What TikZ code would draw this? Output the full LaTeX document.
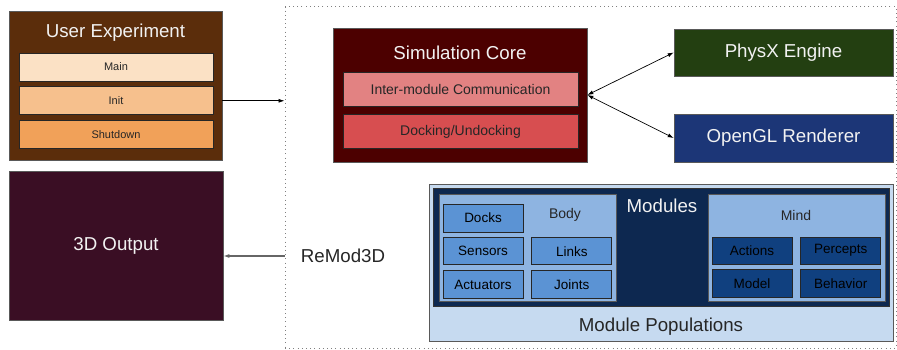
\documentclass[tikz,border=0pt]{standalone}
\usepackage{fontspec}
\setmainfont{Liberation Sans}
\usetikzlibrary{arrows.meta, positioning}

\definecolor{uxbrown}{HTML}{5B2D0B}
\definecolor{uxmain}{HTML}{FBE1C5}
\definecolor{uxinit}{HTML}{F6C08D}
\definecolor{uxshut}{HTML}{F1A159}
\definecolor{simred}{HTML}{4C0000}
\definecolor{simcomm}{HTML}{E28282}
\definecolor{simdock}{HTML}{D74E50}
\definecolor{physgreen}{HTML}{233F11}
\definecolor{glblue}{HTML}{1C3677}
\definecolor{outplum}{HTML}{3A0E24}
\definecolor{poplight}{HTML}{C6DAF0}
\definecolor{modnavy}{HTML}{0D2850}
\definecolor{partblue}{HTML}{8EB4E1}
\definecolor{bodyblue}{HTML}{5B93D4}
\definecolor{mindblue}{HTML}{10407F}
\definecolor{lighttext}{HTML}{F2F2F2}

\tikzset{
  outerbox/.style={draw=black!65, line width=0.6pt, rectangle, inner sep=0pt},
  innerbox/.style={draw=black!85, line width=0.8pt, rectangle, inner sep=0pt,
    font=\fontsize{11}{13}\selectfont, text=black!85},
  partbox/.style={innerbox, minimum width=80pt, text=black, font=\fontsize{13.5}{16}\selectfont},
  bigtext/.style={font=\fontsize{18.7}{22}\selectfont},
  midtext/.style={font=\fontsize{14}{17}\selectfont},
  linkarrow/.style={line width=0.7pt, -{Latex[length=6pt, width=4pt]}},
}

\begin{document}
\begin{tikzpicture}[x=1pt, y=-1pt]
    \useasboundingbox (0,0) rectangle (897,350);

    % user side
    \node (ux) [outerbox, fill=uxbrown, minimum width=213pt, minimum height=149pt] at (115.5,85.5) {};
    \node (uxtitle) [bigtext, text=lighttext] at (115.5,33) {User Experiment};
    \node (main) [innerbox, fill=uxmain, minimum width=194pt, minimum height=28pt] at (116,67) {Main};
    \node (init) [innerbox, fill=uxinit, minimum width=194pt, minimum height=28pt, below=5pt of main] {Init};
    \node (shut) [innerbox, fill=uxshut, minimum width=194pt, minimum height=28pt, below=5pt of init] {Shutdown};

    \node (out) [outerbox, fill=outplum, minimum width=214pt, minimum height=149pt, bigtext, text=lighttext] at (116,245.5) {3D Output};

    % ReMod3D frame
    \node (remod) [draw=black!50, line width=1pt, dash pattern=on 1pt off 3.2pt, rectangle, minimum width=611pt, minimum height=341pt] at (590.5,177.5) {};
    \node (remodlbl) [bigtext, text=black!85] at (343,256) {ReMod3D};

    % simulation core
    \node (simcore) [outerbox, fill=simred, minimum width=254pt, minimum height=134pt] at (460,95) {};
    \node (simtitle) [bigtext, text=lighttext] at (460,53) {Simulation Core};
    \node (comm) [innerbox, fill=simcomm, minimum width=235pt, minimum height=34pt, midtext] at (460.5,89) {Inter-module Communication};
    \node (dock) [innerbox, fill=simdock, minimum width=235pt, minimum height=34pt, midtext, below=8pt of comm] {Docking/Undocking};

    \node (physx) [outerbox, fill=physgreen, minimum width=219pt, minimum height=47pt, bigtext, text=lighttext] at (783.5,52.5) {PhysX Engine};
    \node (opengl) [outerbox, fill=glblue, minimum width=219pt, minimum height=48pt, bigtext, text=lighttext] at (783.5,138) {OpenGL Renderer};

    % module populations
    \node (pop) [outerbox, fill=poplight, minimum width=464pt, minimum height=157pt] at (661,262.5) {};
    \node (poplbl) [bigtext, text=black!85] at (661,327) {Module Populations};
    \node (mods) [outerbox, draw=black!80, fill=modnavy, minimum width=456pt, minimum height=118pt] at (661,247) {};
    \node (modlbl) [bigtext, text=lighttext] at (662,206) {Modules};

    \node (body) [outerbox, fill=partblue, minimum width=177pt, minimum height=107pt] at (527.5,247.5) {};
    \node (bodylbl) [midtext, text=black!85] at (565,215) {Body};
    \node (docks) [partbox, fill=bodyblue, minimum height=28pt] at (483,218) {Docks};
    \node (sensors) [partbox, fill=bodyblue, minimum height=27pt, below=5pt of docks] {Sensors};
    \node (actuators) [partbox, fill=bodyblue, minimum height=28pt, below=5pt of sensors] {Actuators};
    \node (links) [partbox, fill=bodyblue, minimum height=27pt, right=8pt of sensors] {Links};
    \node (joints) [partbox, fill=bodyblue, minimum height=28pt, right=8pt of actuators] {Joints};

    \node (mind) [outerbox, fill=partblue, minimum width=177pt, minimum height=107pt] at (796.5,247.5) {};
    \node (mindlbl) [midtext, text=black!85] at (796,215) {Mind};
    \node (actions) [partbox, fill=mindblue, minimum height=27pt] at (752,250.5) {Actions};
    \node (percepts) [partbox, fill=mindblue, minimum height=27pt, right=8pt of actions] {Percepts};
    \node (model) [partbox, fill=mindblue, minimum height=28pt, below=5pt of actions] {Model};
    \node (behavior) [partbox, fill=mindblue, minimum height=28pt, below=5pt of percepts] {Behavior};

    % connectors
    \draw[linkarrow] (init -| ux.east) -- (init -| remod.west);
    \draw[linkarrow, black!60, line width=1.3pt] (remodlbl -| remod.west) -- (remodlbl -| out.east);
    \draw[linkarrow, {Latex[length=6pt, width=4pt]}-{Latex[length=6pt, width=4pt]}] (simcore.east) -- (physx.west);
    \draw[linkarrow, {Latex[length=6pt, width=4pt]}-{Latex[length=6pt, width=4pt]}] (simcore.east) -- (opengl.west);
\end{tikzpicture}
\end{document}
